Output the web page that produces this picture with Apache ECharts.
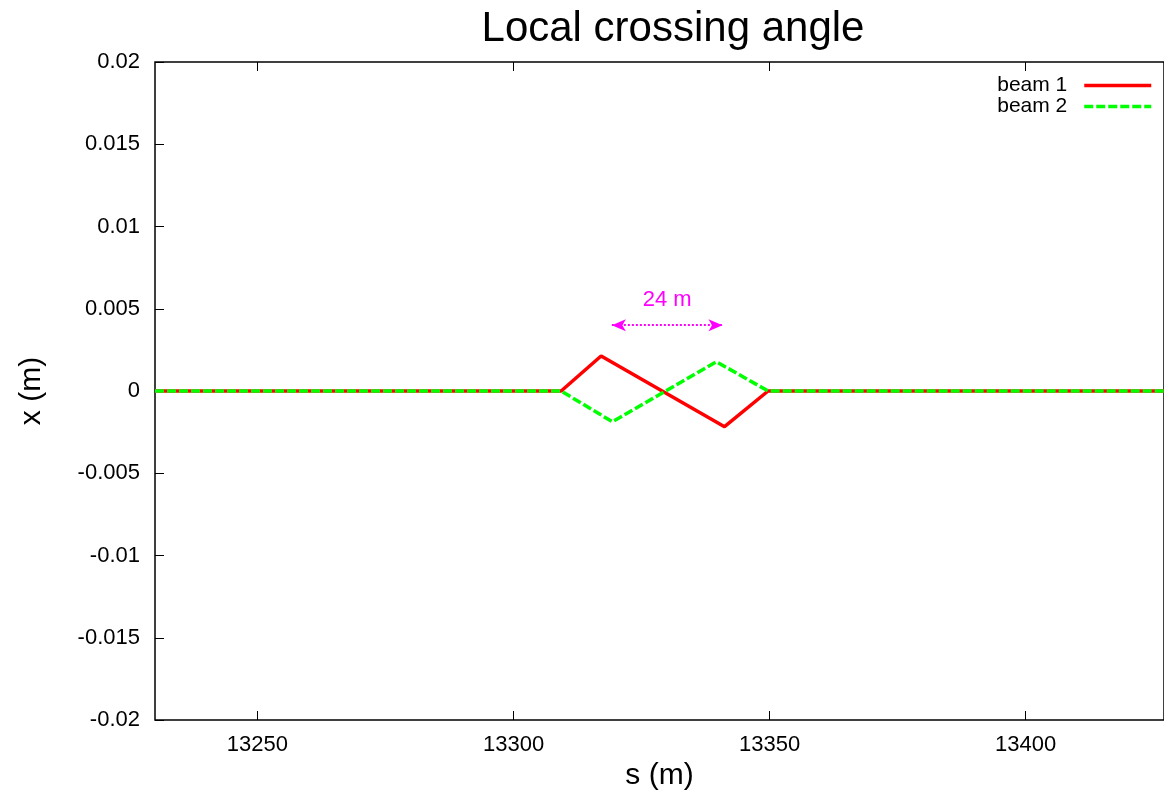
<!DOCTYPE html>
<html>
<head>
<meta charset="utf-8">
<title>Local crossing angle</title>
<script src="https://cdn.jsdelivr.net/npm/echarts@6/dist/echarts.min.js"></script>
<style>
  html, body { margin: 0; padding: 0; background: #fff; }
  #chart { width: 1164px; height: 791px; }
</style>
</head>
<body>
<div id="chart"></div>
<script>
// beam orbits (s in m, x in m)
var beam1S = [13230, 13309.3, 13317.1, 13341.2, 13349.7, 13427];
var beam1X = [0, 0, 0.00213, -0.00217, 0, 0];
var beam2S = [13230, 13309.3, 13319.3, 13339.6, 13349.7, 13427];
var beam2X = [0, 0, -0.00187, 0.00178, 0, 0];

// arrow annotation
var arrowS = [13319.2, 13340.8];
var arrowX = 0.004;
var arrowLabel = "24 m";

var xTicks = [13250, 13300, 13350, 13400];

function pairs(s, x) {
  var out = [];
  for (var i = 0; i < s.length; i++) out.push([s[i], x[i]]);
  return out;
}

var font = "Liberation Sans, Arial, sans-serif";
var chart = echarts.init(document.getElementById("chart"));

chart.setOption({
  animation: false,
  backgroundColor: "#fff",
  title: {
    text: "Local crossing angle",
    left: 668,
    top: 3,
    textAlign: "center",
    textStyle: { fontFamily: font, fontSize: 42, fontWeight: "normal", color: "#000" }
  },
  legend: {
    orient: "vertical",
    right: 6,
    top: 70,
    align: "right",
    itemWidth: 67,
    itemHeight: 12,
    itemGap: 0,
    itemStyle: { opacity: 0 },
    lineStyle: { width: 3.5 },
    textStyle: { fontFamily: font, fontSize: 21, lineHeight: 21, color: "#000", padding: [0, 12, 0, 0] },
    data: ["beam 1", "beam 2"]
  },
  grid: {
    left: 155,
    right: 0,
    top: 62,
    bottom: 71,
    outerBoundsMode: "none",
    show: true,
    borderColor: "#000",
    borderWidth: 1.5
  },
  xAxis: [
    {
      type: "value",
      min: 13230,
      max: 13427,
      name: "s (m)",
      nameLocation: "middle",
      nameGap: 40,
      nameTextStyle: { fontFamily: font, fontSize: 30, color: "#000" },
      axisLine: { show: false, onZero: false },
      splitLine: { show: false },
      axisTick: { inside: true, length: 9, customValues: xTicks, lineStyle: { color: "#000" } },
      axisLabel: {
        margin: 14,
        customValues: xTicks,
        formatter: function (v) { return String(v); },
        fontFamily: font, fontSize: 22, color: "#000"
      }
    },
    {
      type: "value",
      position: "top",
      min: 13230,
      max: 13427,
      axisLine: { show: false, onZero: false },
      splitLine: { show: false },
      axisTick: { inside: true, length: 9, customValues: xTicks, lineStyle: { color: "#000" } },
      axisLabel: { show: false }
    }
  ],
  yAxis: {
    type: "value",
    min: -0.02,
    max: 0.02,
    interval: 0.005,
    name: "x (m)",
    nameLocation: "middle",
    nameGap: 108,
    nameTextStyle: { fontFamily: font, fontSize: 30, color: "#000" },
    axisLine: { show: false, onZero: false },
    splitLine: { show: false },
    axisTick: { inside: true, length: 9, lineStyle: { color: "#000" } },
    axisLabel: { margin: 15, fontFamily: font, fontSize: 22, color: "#000" }
  },
  series: [
    {
      name: "beam 1",
      type: "line",
      symbol: "none",
      data: pairs(beam1S, beam1X),
      lineStyle: { color: "#ff0000", width: 3.5 },
      itemStyle: { color: "#ff0000" },
      markLine: {
        silent: true,
        symbol: ["arrow", "arrow"],
        symbolSize: [9, 14],
        lineStyle: { color: "#ff00ff", type: "dotted", width: 2 },
        label: {
          show: true,
          position: "middle",
          formatter: arrowLabel,
          distance: 14,
          fontFamily: font,
          fontSize: 22,
          color: "#ff00ff"
        },
        data: [[{ coord: [arrowS[0], arrowX] }, { coord: [arrowS[1], arrowX] }]]
      },
      z: 2
    },
    {
      name: "beam 2",
      type: "line",
      symbol: "none",
      data: pairs(beam2S, beam2X),
      lineStyle: { color: "#00ff00", width: 3.5, type: [9, 3] },
      itemStyle: { color: "#00ff00" },
      z: 3
    }
  ]
});
</script>
</body>
</html>
